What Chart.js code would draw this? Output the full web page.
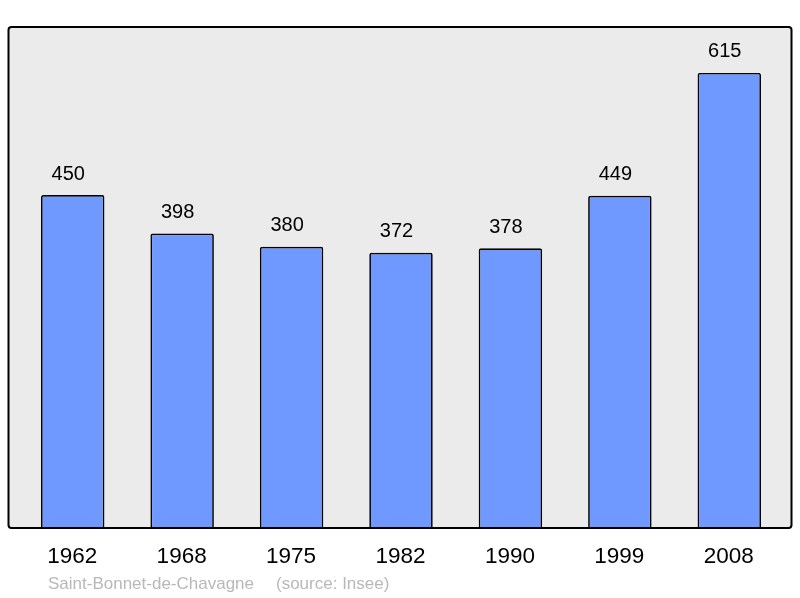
<!DOCTYPE html>
<html>
<head>
<meta charset="utf-8">
<script src="https://cdn.jsdelivr.net/npm/chart.js@4/dist/chart.umd.min.js"></script>
<style>
html,body{margin:0;padding:0;background:#fff;}
#wrap{width:800px;height:598px;position:relative;}
</style>
</head>
<body>
<div id="wrap"><canvas id="c" width="800" height="598"></canvas></div>
<script>
const categories = ["1962","1968","1975","1982","1990","1999","2008"];
const populations = [450,398,380,372,378,449,615];
const commune = "Saint-Bonnet-de-Chavagne";
const sourceNote = "(source: Insee)";
const yMax = 677;

const FONT = '"Liberation Sans", Arial, sans-serif';

function roundRect(ctx,x,y,w,h,r){
  ctx.beginPath();
  ctx.moveTo(x+r,y);
  ctx.lineTo(x+w-r,y);
  ctx.quadraticCurveTo(x+w,y,x+w,y+r);
  ctx.lineTo(x+w,y+h-r);
  ctx.quadraticCurveTo(x+w,y+h,x+w-r,y+h);
  ctx.lineTo(x+r,y+h);
  ctx.quadraticCurveTo(x,y+h,x,y+h-r);
  ctx.lineTo(x,y+r);
  ctx.quadraticCurveTo(x,y,x+r,y);
  ctx.closePath();
}

const framePlugin = {
  id:'frame',
  beforeDatasetsDraw(chart){
    const {ctx, chartArea:a} = chart;
    ctx.save();
    roundRect(ctx, a.left-9.5, a.top, (a.right+7.5)-(a.left-9.5), a.bottom-a.top, 3);
    ctx.fillStyle = '#ebebeb';
    ctx.fill();
    ctx.restore();
  },
  afterDatasetsDraw(chart){
    const {ctx, chartArea:a, scales} = chart;
    ctx.save();
    roundRect(ctx, a.left-9.5, a.top, (a.right+7.5)-(a.left-9.5), a.bottom-a.top, 3);
    ctx.lineWidth = 2;
    ctx.strokeStyle = '#000';
    ctx.stroke();
    // value labels
    const meta = chart.getDatasetMeta(0);
    ctx.fillStyle = '#000';
    ctx.font = '20px ' + FONT;
    ctx.textAlign = 'center';
    ctx.textBaseline = 'middle';
    meta.data.forEach((bar,i)=>{
      ctx.fillText(String(populations[i]), bar.x - 4.5, bar.y - 21);
    });
    // category labels
    ctx.font = '22.5px ' + FONT;
    categories.forEach((c,i)=>{
      ctx.fillText(c, scales.x.getPixelForValue(i) - 0.5, a.bottom + 28.5);
    });
    // source
    ctx.font = '17px ' + FONT;
    ctx.fillStyle = '#b8b8b8';
    ctx.textAlign = 'left';
    ctx.fillText(commune, 48, a.bottom + 56);
    ctx.fillText(sourceNote, 276, a.bottom + 56);
    ctx.restore();
  }
};

new Chart(document.getElementById('c'), {
  type:'bar',
  data:{
    labels: categories,
    datasets:[{
      data: populations,
      backgroundColor:'#7099ff',
      borderColor:'#000',
      borderWidth:1.7,
      borderRadius:2,
      borderSkipped:'bottom',
      barPercentage:0.58,
      categoryPercentage:1
    }]
  },
  options:{
    responsive:false,
    animation:false,
    devicePixelRatio:1,
    layout:{padding:{left:18,right:16,top:27,bottom:70}},
    plugins:{legend:{display:false},tooltip:{enabled:false}},
    scales:{
      x:{display:false},
      y:{display:false,min:0,max:yMax}
    }
  },
  plugins:[framePlugin]
});
</script>
</body>
</html>
